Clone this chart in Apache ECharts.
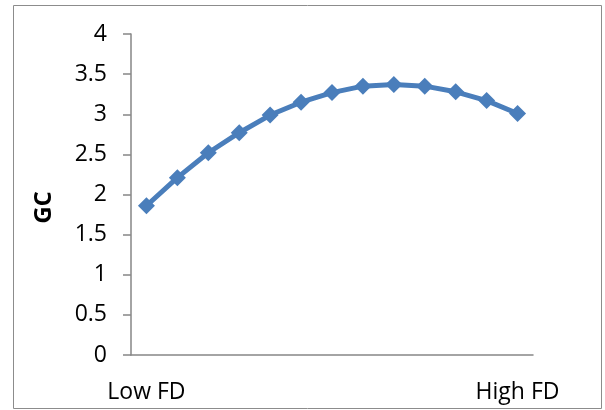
<!DOCTYPE html>
<html>
<head>
<meta charset="utf-8">
<script src="https://cdn.jsdelivr.net/npm/echarts@6/dist/echarts.min.js"></script>
<style>
  html, body { margin: 0; padding: 0; background: #fff; }
  #main { width: 605px; height: 410px; }
</style>
</head>
<body>
<div id="main"></div>
<script>
// x axis: only the two ends carry a label
var categories = ['Low FD', '', '', '', '', '', '', '', '', '', '', '', 'High FD'];
// GC values
var gcValues = [1.86, 2.21, 2.52, 2.77, 2.99, 3.15, 3.27, 3.35, 3.37, 3.35, 3.28, 3.17, 3.01];

var myChart = echarts.init(document.getElementById('main'));

var option = {
    animation: false,
    textStyle: { fontFamily: 'Open Sans' },
    graphic: [
        {
            type: 'rect',
            shape: { x: 13.5, y: 5.5, width: 588, height: 403 },
            style: { fill: 'none', stroke: '#8c8c8c', lineWidth: 1 }
        }
    ],
    grid: { left: 131, right: 72, top: 34, bottom: 55 },
    xAxis: {
        type: 'category',
        data: categories,
        boundaryGap: true,
        axisLine: { lineStyle: { color: '#868686', width: 1.5 } },
        axisTick: { show: false },
        axisLabel: { interval: 0, margin: 26, color: '#000', fontSize: 23, fontFamily: 'Open Sans' }
    },
    yAxis: {
        type: 'value',
        min: 0,
        max: 4,
        interval: 0.5,
        name: 'GC',
        nameLocation: 'middle',
        nameGap: 75,
        nameTextStyle: { fontWeight: 'bold', fontSize: 24, color: '#000', fontFamily: 'Open Sans', padding: [0, 0, 0, -26] },
        splitLine: { show: false },
        axisLine: { show: true, lineStyle: { color: '#868686', width: 1.5 } },
        axisTick: { show: true, inside: false, length: 8, lineStyle: { color: '#868686', width: 1.5 } },
        axisLabel: { margin: 24, color: '#000', fontSize: 23, fontFamily: 'Open Sans' }
    },
    series: [
        {
            name: 'GC',
            type: 'line',
            data: gcValues,
            symbol: 'diamond',
            symbolSize: 17,
            lineStyle: { color: '#4a7ebb', width: 5 },
            itemStyle: { color: '#4a7ebb' }
        }
    ]
};

myChart.setOption(option);
</script>
</body>
</html>
